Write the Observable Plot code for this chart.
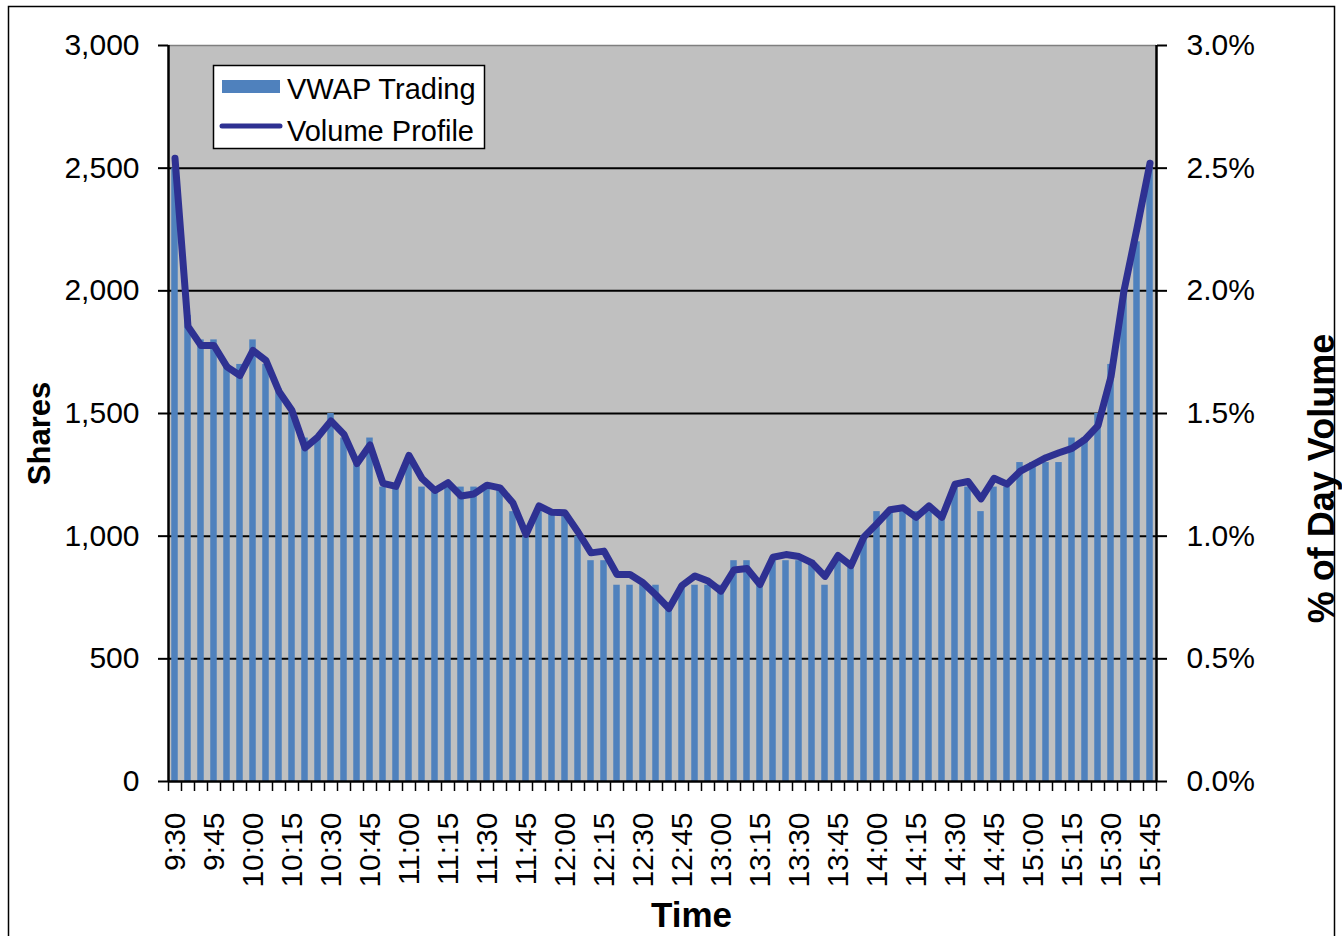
<!DOCTYPE html>
<html>
<head>
<meta charset="utf-8">
<script src="https://cdn.jsdelivr.net/npm/d3@7"></script>
<script src="https://cdn.jsdelivr.net/npm/@observablehq/plot@0.6"></script>
<style>
  html, body { margin: 0; padding: 0; background: #fff; }
  #chart { width: 1342px; height: 936px; overflow: hidden; }
</style>
</head>
<body>
<div id="chart"></div>
<script>
// 5-minute intervals (categories)
const times = [
  "9:30","9:35","9:40","9:45","9:50","9:55",
  "10:00","10:05","10:10","10:15","10:20","10:25","10:30","10:35","10:40","10:45","10:50","10:55",
  "11:00","11:05","11:10","11:15","11:20","11:25","11:30","11:35","11:40","11:45","11:50","11:55",
  "12:00","12:05","12:10","12:15","12:20","12:25","12:30","12:35","12:40","12:45","12:50","12:55",
  "13:00","13:05","13:10","13:15","13:20","13:25","13:30","13:35","13:40","13:45","13:50","13:55",
  "14:00","14:05","14:10","14:15","14:20","14:25","14:30","14:35","14:40","14:45","14:50","14:55",
  "15:00","15:05","15:10","15:15","15:20","15:25","15:30","15:35","15:40","15:45"
];

// VWAP Trading (shares) – bars, left axis
const vwapShares = [
  2500,1900,1800,1800,1700,1700,
  1800,1700,1600,1500,1400,1400,1500,1400,1300,1400,1200,1200,
  1300,1200,1200,1200,1200,1200,1200,1200,1100,1000,1100,1100,
  1100,1000,900,900,800,800,800,800,700,800,800,800,
  800,900,900,800,900,900,900,900,800,900,900,1000,
  1100,1100,1100,1100,1100,1100,1200,1200,1100,1200,1200,1300,
  1300,1300,1300,1400,1400,1500,1700,2000,2200,2500
];

// Volume Profile (% of day volume) – line, right axis
const volumeProfilePct = [
  2.54,1.855,1.777,1.777,1.690,1.655,
  1.757,1.716,1.590,1.512,1.360,1.405,1.470,1.415,1.296,1.372,1.215,1.203,
  1.329,1.235,1.186,1.218,1.164,1.172,1.208,1.197,1.135,1.007,1.123,1.097,
  1.095,1.017,0.932,0.939,0.844,0.844,0.810,0.760,0.705,0.799,0.838,0.817,
  0.776,0.862,0.868,0.803,0.914,0.925,0.917,0.891,0.836,0.921,0.880,0.997,
  1.051,1.108,1.116,1.077,1.123,1.077,1.212,1.223,1.152,1.236,1.212,1.264,
  1.292,1.320,1.340,1.358,1.394,1.451,1.650,2.000,2.255,2.520
];

const leftTicks = [0, 500, 1000, 1500, 2000, 2500, 3000];
const gridTicks = [500, 1000, 1500, 2000, 2500];
const rightTickLabels = ["0.0%","0.5%","1.0%","1.5%","2.0%","2.5%","3.0%"];
const labelEvery = 3;

// table built from the arrays
const table = times.map((t, i) => ({i, time: t, shares: vwapShares[i], pct: volumeProfilePct[i]}));
const shareScale = 1000; // 3,000 shares <-> 3.0%

const barColor = "#4f81bd";
const lineColor = "#2e3192";
const font = "'Liberation Sans', Arial, 'DejaVu Sans', sans-serif";

const svg = Plot.plot({
  width: 1342,
  height: 936,
  marginLeft: 168,
  marginRight: 186,
  marginTop: 45,
  marginBottom: 155,
  style: {fontFamily: font, fontSize: "30px", color: "black", background: "white", overflow: "visible"},
  x: {type: "linear", domain: [-0.5, times.length - 0.5], axis: null},
  y: {domain: [0, 3000], axis: null},
  marks: [
    Plot.frame({fill: "#c0c0c0", stroke: null}),
    Plot.gridY(gridTicks, {stroke: "black", strokeOpacity: 1, strokeWidth: 2}),
    Plot.ruleY([3000], {stroke: "#7f7f7f", strokeWidth: 1.5}),
    Plot.rectY(table, {x1: d => d.i - 0.25, x2: d => d.i + 0.25, y1: 0, y2: "shares", fill: barColor}),
    Plot.line(table, {x: "i", y: d => d.pct * shareScale, stroke: lineColor, strokeWidth: 7, strokeLinejoin: "round", strokeLinecap: "round"}),
    // axes lines
    Plot.ruleX([-0.5, times.length - 0.5], {stroke: "black", strokeWidth: 2.5}),
    Plot.ruleY([0], {stroke: "black", strokeWidth: 2.5}),
    // left axis
    Plot.axisY({anchor: "left", ticks: leftTicks, tickSize: 10, tickPadding: 19, strokeWidth: 2,
      tickFormat: d3.format(","), label: null}),
    // right axis
    Plot.axisY({anchor: "right", ticks: leftTicks, tickSize: 10, tickPadding: 20, strokeWidth: 2,
      tickFormat: d => rightTickLabels[leftTicks.indexOf(d)], textAnchor: "start", label: null}),
    // x boundary ticks
    Plot.axisX({ticks: d3.range(times.length + 1).map(k => k - 0.5), tickSize: 10, strokeWidth: 1.5,
      tickFormat: () => "", label: null}),
    // x labels
    Plot.axisX({ticks: d3.range(0, times.length, labelEvery), tickSize: 0, tickPadding: 31, tickRotate: -90,
      tickFormat: i => times[i], label: null}),
    // axis titles
    Plot.text(["Shares"], {frameAnchor: "left", dx: -128, dy: 20, rotate: -90, textAnchor: "middle",
      fontWeight: "bold", fontSize: 31}),
    Plot.text(["% of Day Volume"], {frameAnchor: "right", dx: 166, dy: 65, rotate: -90, textAnchor: "middle",
      fontWeight: "bold", fontSize: 36}),
    Plot.text(["Time"], {frameAnchor: "bottom", dx: 29, dy: 145, textAnchor: "middle",
      fontWeight: "bold", fontSize: 35})
  ]
});

const s = d3.select(svg);
// outer chart border
s.append("rect").attr("x", 8.5).attr("y", 6.5).attr("width", 1326).attr("height", 1000)
  .attr("fill", "none").attr("stroke", "black").attr("stroke-width", 1.5);

// legend
const lg = s.append("g").attr("font-family", font).attr("font-size", 29).attr("text-anchor", "start");
lg.append("rect").attr("x", 213.5).attr("y", 65.5).attr("width", 271).attr("height", 83)
  .attr("fill", "white").attr("stroke", "black").attr("stroke-width", 1.5);
lg.append("rect").attr("x", 222).attr("y", 80).attr("width", 58).attr("height", 13).attr("fill", barColor);
lg.append("text").attr("x", 287).attr("y", 99).text("VWAP Trading");
lg.append("line").attr("x1", 222).attr("x2", 280).attr("y1", 126).attr("y2", 126)
  .attr("stroke", lineColor).attr("stroke-width", 5).attr("stroke-linecap", "round");
lg.append("text").attr("x", 287).attr("y", 141).text("Volume Profile");

document.getElementById("chart").appendChild(svg);
</script>
</body>
</html>
